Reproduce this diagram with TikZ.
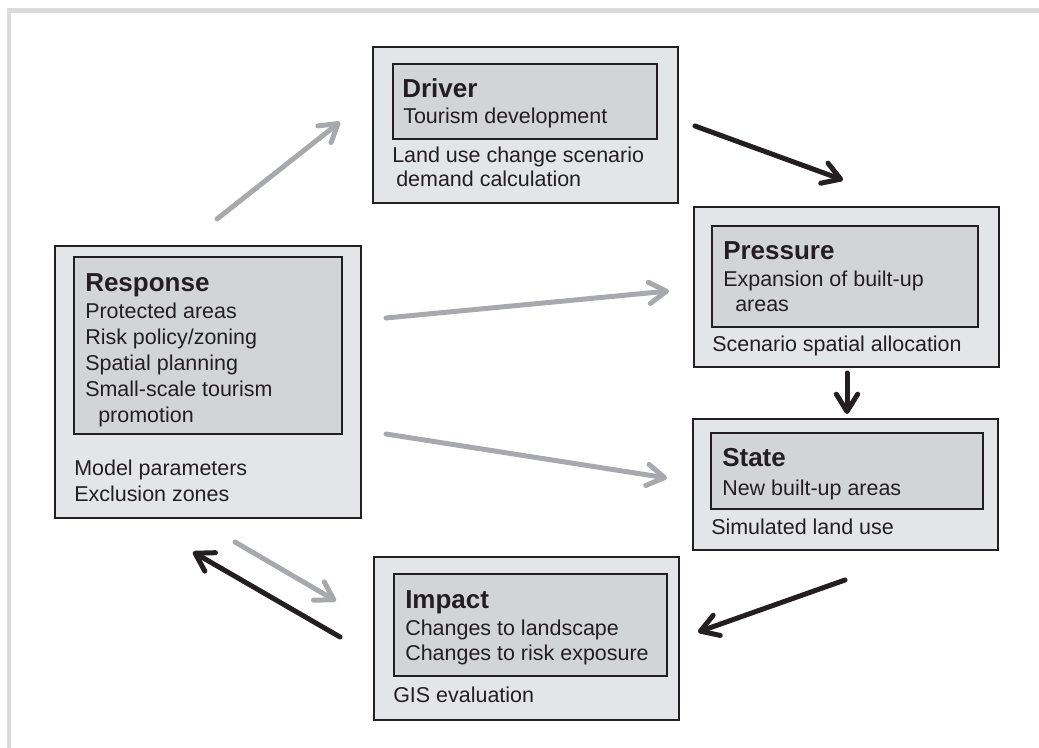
\documentclass[tikz,border=0pt]{standalone}
\usepackage{fontspec}
\setmainfont{Liberation Sans}
\usepackage{xcolor}
\usetikzlibrary{arrows.meta,fit}
\definecolor{boxline}{HTML}{231F20}
\definecolor{outerfill}{HTML}{E4E5E6}
\definecolor{innerfill}{HTML}{D3D4D5}
\definecolor{flowgray}{HTML}{A7A9AC}
\definecolor{framegray}{HTML}{D9DADB}

\begin{document}
\begin{tikzpicture}[x=0.75pt,y=-0.75pt,
  outerbox/.style={draw=boxline,line width=1.5pt,fill=outerfill,inner sep=0pt},
  innerbox/.style={draw=boxline,line width=1.5pt,fill=innerfill,inner sep=0pt},
  head/.style={anchor=base west,inner sep=0pt,text=boxline,font=\fontsize{19.5pt}{22pt}\selectfont\bfseries},
  body/.style={anchor=base west,inner sep=0pt,text=boxline,font=\fontsize{16.1pt}{19pt}\selectfont},
  flow/.style={line width=3.75pt,line cap=round,-{Straight Barb[round,length=13pt,width=16pt]}},
  grayflow/.style={flow,draw=flowgray},
  darkflow/.style={flow,draw=boxline}]
  \useasboundingbox (0,0) rectangle (1039,748);

  % Frame
  \draw[framegray,line width=3.2pt] (9,748) -- (9,10.5) -- (1039,10.5);

  % Driver
  \node[outerbox,fit={(373,47) (678,203)}] (driver) {};
  \node[innerbox,fit={(393,64) (657,139)}] (drivercore) {};
  \node[head] (driverhead) at (402,98) {Driver};
  \node[body] (drivertext) at (403,124) {Tourism development};
  \node[body] (drivermodel) at (392,163) {Land use change scenario};
  \node[body] (drivermodelb) at (396,187) {demand calculation};

  % Pressure
  \node[outerbox,fit={(694,207) (999,367)}] (pressure) {};
  \node[innerbox,fit={(712,226) (978,327)}] (pressurecore) {};
  \node[head] (pressurehead) at (723,260) {Pressure};
  \node[body] (pressuretext) at (723,287) {Expansion of built-up};
  \node[body] (pressuretextb) at (735,312) {areas};
  \node[body] (pressuremodel) at (712,352) {Scenario spatial allocation};

  % State
  \node[outerbox,fit={(693,419) (998,550)}] (state) {};
  \node[innerbox,fit={(711,433) (983,509)}] (statecore) {};
  \node[head] (statehead) at (722,467) {State};
  \node[body] (statetext) at (722,495) {New built-up areas};
  \node[body] (statemodel) at (711,534) {Simulated land use};

  % Impact
  \node[outerbox,fit={(374,557) (679,720)}] (impact) {};
  \node[innerbox,fit={(394,574) (667,676)}] (impactcore) {};
  \node[head] (impacthead) at (405,608) {Impact};
  \node[body] (impacttext) at (405,635) {Changes to landscape};
  \node[body] (impacttextb) at (405,660) {Changes to risk exposure};
  \node[body] (impactmodel) at (393,702) {GIS evaluation};

  % Response
  \node[outerbox,fit={(55,246) (361,518)}] (response) {};
  \node[innerbox,fit={(74,257) (342,434)}] (responsecore) {};
  \node[head] (responsehead) at (85,292) {Response};
  \node[body] (responsetext) at (85,319) {Protected areas};
  \node[body] (responsetextb) at (85,345) {Risk policy/zoning};
  \node[body] (responsetextc) at (85,371) {Spatial planning};
  \node[body] (responsetextd) at (85,397) {Small-scale tourism};
  \node[body] (responsetexte) at (98,423) {promotion};
  \node[body] (responsemodel) at (74,475) {Model parameters};
  \node[body] (responsemodelb) at (74,502) {Exclusion zones};

  % Arrow ends
  \coordinate (r2d) at (217,219);
  \coordinate (d2r) at (340,122);
  \coordinate (d2p) at (695,126);
  \coordinate (p2d) at (843,180);
  \coordinate (r2p) at (386,318);
  \coordinate (p2r) at (669,291);
  \coordinate (r2s) at (386,434);
  \coordinate (s2r) at (667,478);
  \coordinate (p2s) at (847,373);
  \coordinate (s2p) at (847,414);
  \coordinate (s2i) at (845,580);
  \coordinate (i2s) at (698,632);
  \coordinate (r2i) at (235,542);
  \coordinate (i2r) at (336,601);
  \coordinate (i2rb) at (340,637);
  \coordinate (r2ib) at (193,552);

  % Response arrows
  \draw[grayflow] (r2d) -- (d2r);
  \draw[grayflow] (r2p) -- (p2r);
  \draw[grayflow] (r2s) -- (s2r);
  \draw[grayflow] (r2i) -- (i2r);

  % Chain arrows
  \draw[darkflow] (d2p) -- (p2d);
  \draw[darkflow] (p2s) -- (s2p);
  \draw[darkflow] (s2i) -- (i2s);
  \draw[darkflow] (i2rb) -- (r2ib);
\end{tikzpicture}
\end{document}
